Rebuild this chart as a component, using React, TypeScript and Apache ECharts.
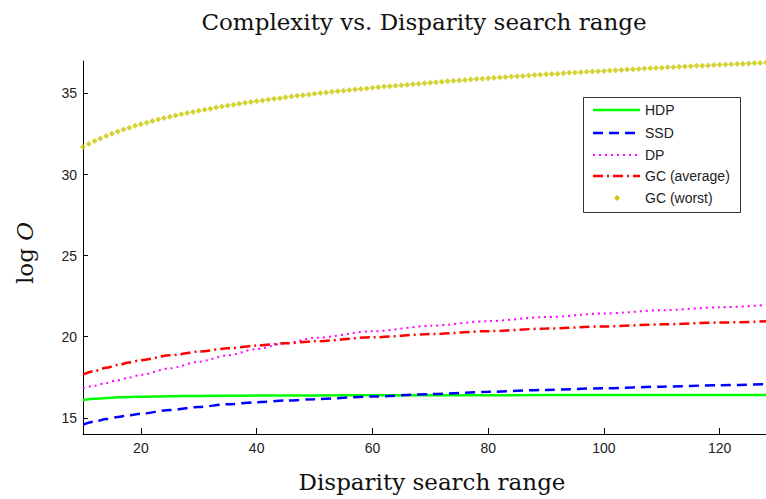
import React, { useEffect, useRef } from "react";
import * as echarts from "echarts";

const lineX = [10, 12, 14, 16, 18, 20, 25, 30, 35, 40, 45, 50, 60, 70, 80, 90, 100, 110, 120, 128];
const hdp = [16.09, 16.17, 16.22, 16.26, 16.28, 16.3, 16.33, 16.35, 16.36, 16.37, 16.38, 16.38, 16.39, 16.39, 16.39, 16.4, 16.4, 16.4, 16.4, 16.4];
const ssd = [14.58, 14.76, 14.92, 15.05, 15.16, 15.25, 15.48, 15.67, 15.83, 15.96, 16.06, 16.15, 16.31, 16.46, 16.6, 16.72, 16.82, 16.92, 17.01, 17.07];
const dp = [16.81, 16.98, 17.15, 17.32, 17.48, 17.65, 18.05, 18.45, 18.85, 19.24, 19.6, 19.93, 20.33, 20.67, 20.96, 21.21, 21.43, 21.63, 21.81, 21.95];
const gcAvg = [17.66, 17.88, 18.08, 18.25, 18.41, 18.55, 18.85, 19.08, 19.28, 19.45, 19.59, 19.72, 19.96, 20.16, 20.34, 20.5, 20.63, 20.76, 20.87, 20.95];
const gcWorstStart = 10;
const gcWorst = [
  31.69, 31.88, 32.06, 32.22, 32.37, 32.52, 32.65, 32.77, 32.89, 33.0,
  33.1, 33.2, 33.3, 33.39, 33.48, 33.56, 33.64, 33.72, 33.79, 33.86,
  33.93, 34.0, 34.06, 34.13, 34.19, 34.25, 34.3, 34.36, 34.42, 34.47,
  34.52, 34.57, 34.62, 34.67, 34.71, 34.76, 34.81, 34.85, 34.89, 34.93,
  34.98, 35.02, 35.06, 35.1, 35.13, 35.17, 35.21, 35.24, 35.28, 35.31,
  35.35, 35.38, 35.42, 35.45, 35.48, 35.51, 35.54, 35.57, 35.6, 35.63,
  35.66, 35.69, 35.72, 35.75, 35.78, 35.8, 35.83, 35.86, 35.89, 35.91,
  35.94, 35.96, 35.99, 36.01, 36.04, 36.06, 36.08, 36.11, 36.13, 36.15,
  36.18, 36.2, 36.22, 36.24, 36.27, 36.29, 36.31, 36.33, 36.35, 36.37,
  36.39, 36.41, 36.43, 36.45, 36.47, 36.49, 36.51, 36.53, 36.55, 36.57,
  36.59, 36.61, 36.62, 36.64, 36.66, 36.68, 36.7, 36.71, 36.73, 36.75,
  36.77, 36.78, 36.8, 36.82, 36.83, 36.85, 36.87, 36.88, 36.9,
];
const xTicks = [20, 40, 60, 80, 100, 120];
const yTicks = [15, 20, 25, 30, 35];
const legendNames = ["HDP", "SSD", "DP", "GC (average)", "GC (worst)"];

const SERIF = "'DejaVu Serif', serif";
const SANS = "'Liberation Sans', Arial, sans-serif";

function pairs(xs: number[], ys: number[]) {
  return xs.map((x, i) => [x, ys[i]]);
}

export default function App() {
  const ref = useRef<HTMLDivElement>(null);
  useEffect(() => {
    document.body.style.margin = "0";
    if (!ref.current) return;
    const chart = echarts.init(ref.current, undefined, { renderer: "svg" });
    const colors = ["#00ff00", "#0000ff", "#ff00ff", "#ff0000", "#c8c800"];
    const dashes: any[] = [null, [10, 6], [2, 4], [10, 4, 2, 4], null];
    const lgX = 583, lgY = 97, lgW = 157, lgH = 115;
    const rowY = [110, 133, 155, 176, 198];
    const legendEls: any[] = [
      { type: "rect", shape: { x: lgX + 0.5, y: lgY + 0.5, width: lgW, height: lgH }, style: { fill: "#fff", stroke: "#333", lineWidth: 1 }, z: 100 },
    ];
    legendNames.forEach((name, i) => {
      if (i < 4) {
        legendEls.push({
          type: "line",
          shape: { x1: 593, y1: rowY[i], x2: 640, y2: rowY[i] },
          style: { stroke: colors[i], lineWidth: i === 2 ? 2 : 2.5, lineDash: dashes[i] || undefined },
          z: 101,
        });
      } else {
        const cx = 617, cy = rowY[i];
        legendEls.push({
          type: "polygon",
          shape: { points: [[cx, cy - 3], [cx + 3, cy], [cx, cy + 3], [cx - 3, cy]] },
          style: { fill: colors[i] },
          z: 101,
        });
      }
      legendEls.push({
        type: "text",
        x: 645,
        y: rowY[i],
        style: { text: name, fontFamily: SANS, fontSize: 14, fill: "#222", verticalAlign: "middle", align: "left" },
        z: 101,
      });
    });

    chart.setOption({
      animation: false,
      backgroundColor: "#fff",
      grid: { left: 83, right: 0, top: 61, bottom: 65, containLabel: false },
      xAxis: {
        type: "value",
        min: 10,
        max: 128,
        axisLine: { show: true, onZero: false, lineStyle: { color: "#000", width: 1 } },
        axisTick: { show: true, inside: true, length: 6, customValues: xTicks, lineStyle: { color: "#000" } },
        axisLabel: { customValues: xTicks, fontFamily: SANS, fontSize: 14, color: "#222", margin: 7 },
        splitLine: { show: false },
      },
      yAxis: {
        type: "value",
        min: 14,
        max: 37,
        axisLine: { show: true, onZero: false, lineStyle: { color: "#000", width: 1 } },
        axisTick: { show: true, inside: true, length: 5, customValues: yTicks, lineStyle: { color: "#000" } },
        axisLabel: { customValues: yTicks, fontFamily: SANS, fontSize: 14, color: "#222", margin: 6 },
        splitLine: { show: false },
      },
      series: [
        { name: "HDP", type: "line", data: pairs(lineX, hdp), symbol: "none", smooth: 0.3, smoothMonotone: "x", lineStyle: { color: colors[0], width: 2.5 } },
        { name: "SSD", type: "line", data: pairs(lineX, ssd), symbol: "none", smooth: 0.3, smoothMonotone: "x", lineStyle: { color: colors[1], width: 2.5, type: dashes[1] } },
        { name: "DP", type: "line", data: pairs(lineX, dp), symbol: "none", smooth: 0.3, smoothMonotone: "x", lineStyle: { color: colors[2], width: 2, type: dashes[2] } },
        { name: "GC (average)", type: "line", data: pairs(lineX, gcAvg), symbol: "none", smooth: 0.3, smoothMonotone: "x", lineStyle: { color: colors[3], width: 2.5, type: dashes[3] } },
        {
          name: "GC (worst)",
          type: "scatter",
          data: gcWorst.map((v, i) => [gcWorstStart + i, v]),
          symbol: "diamond",
          symbolSize: 6,
          itemStyle: { color: colors[4] },
        },
      ],
      graphic: [
        {
          type: "text",
          x: 424,
          y: 22,
          style: { text: "Complexity vs. Disparity search range", fontFamily: SERIF, fontSize: 23, fill: "#111", align: "center", verticalAlign: "middle" },
        },
        {
          type: "text",
          x: 432,
          y: 482,
          style: { text: "Disparity search range", fontFamily: SERIF, fontSize: 23, fill: "#111", align: "center", verticalAlign: "middle" },
        },
        {
          type: "text",
          x: 25,
          y: 253,
          rotation: Math.PI / 2,
          style: {
            text: "{a|log }{b|O}",
            align: "center",
            verticalAlign: "middle",
            fill: "#111",
            rich: {
              a: { fontFamily: SERIF, fontSize: 23, fill: "#111" },
              b: { fontFamily: SERIF, fontSize: 23, fontStyle: "italic", fill: "#111" },
            },
          },
        },
        ...legendEls,
      ],
    });
    return () => chart.dispose();
  }, []);
  return <div ref={ref} style={{ width: 766, height: 499, position: "absolute", left: 0, top: 0 }} />;
}
